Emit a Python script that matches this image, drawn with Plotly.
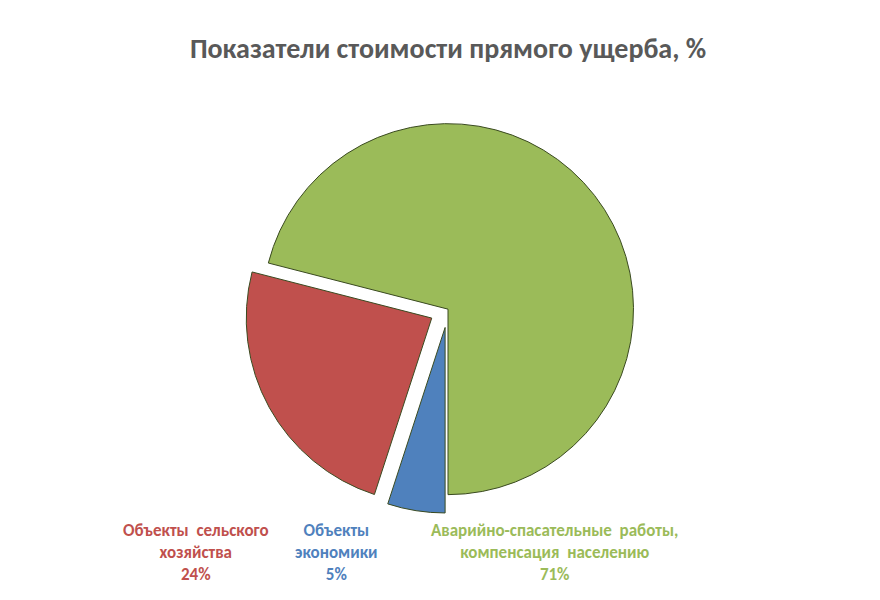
import plotly.graph_objects as go

labels = ["Объекты<br>экономики", "Объекты  сельского<br>хозяйства", "Аварийно-спасательные  работы,<br>компенсация  населению"]
values = [5, 24, 71]
colors = ["#4F81BD", "#C0504D", "#9BBB59"]
pulls = [0.1, 0.1, 0]

fig = go.Figure(go.Pie(
    labels=labels, values=values, sort=False, direction="clockwise", rotation=180,
    marker=dict(colors=colors, line=dict(color="#3a4a20", width=1)),
    pull=pulls, textinfo="none", hoverinfo="label+percent",
    domain=dict(x=[0.0, 1.0], y=[0.16, 0.93]),
))

# labels below the pie
pos = [(0.37, 0.02), (0.12, 0.02), (0.77, 0.02)]
for (x, y), lab, v, c in zip(pos, labels, values, colors):
    fig.add_annotation(x=x, y=y, xref="paper", yref="paper", showarrow=False,
                       text=f"<b>{lab}<br>{v}%</b>", font=dict(size=17, color=c, family="Calibri, Liberation Sans"),
                       align="center", yanchor="bottom")

fig.update_layout(
    width=880, height=600, showlegend=False, paper_bgcolor="white",
    margin=dict(l=10, r=10, t=60, b=10),
    title=dict(text="<b>Показатели стоимости прямого ущерба, %</b>", x=0.5, y=0.95,
               font=dict(size=28, color="#595959", family="Calibri, Liberation Sans")),
)

fig.write_html("out.html")
